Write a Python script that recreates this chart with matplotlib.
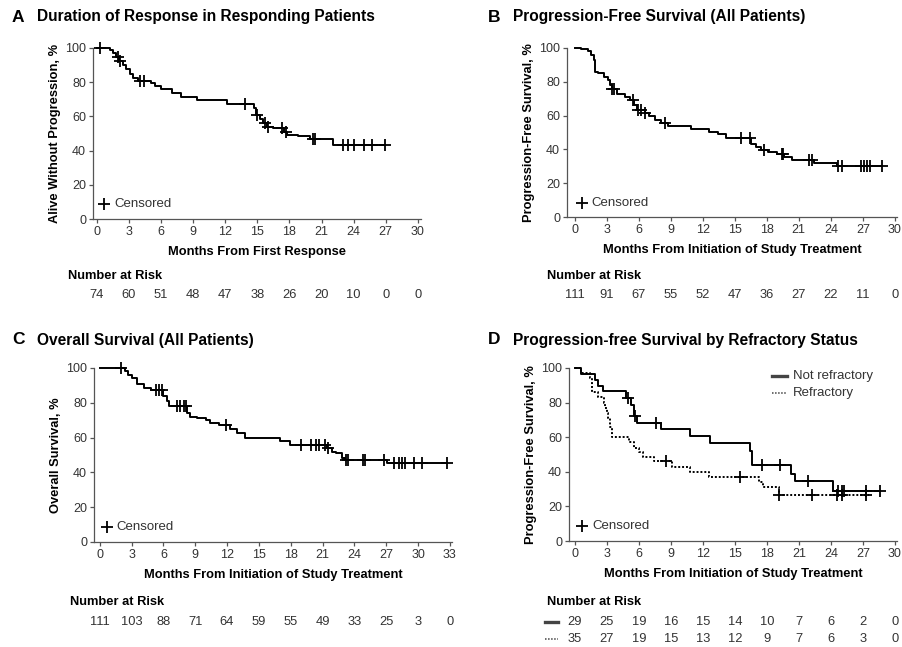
import numpy as np
import matplotlib
matplotlib.use("Agg")
import matplotlib.pyplot as plt
from matplotlib.transforms import blended_transform_factory

plt.rcParams['font.family'] = ['Liberation Sans', 'DejaVu Sans']

W, H = 903, 647

# --- data (months, survival %) ---
# A: duration of response
a_t = [0, 1.2, 1.5, 1.8, 2.1, 2.4, 2.7, 3.1, 3.4, 3.8, 5.1, 5.4, 6.0, 7.0, 7.9, 9.4,
       12.2, 14.7, 14.9, 15.2, 15.5, 15.9, 16.5, 17.5, 17.8, 18.8, 19.9, 22.1]
a_s = [100, 98.8, 97, 95, 92.5, 90, 88, 85, 82.5, 80.5, 79.5, 78, 76, 73.5, 71.5, 69.5,
       67.5, 65, 61, 58.5, 56, 54, 53, 51, 49, 48.5, 46.5, 43.5]
a_cens = [0.3, 2.0, 2.2, 4.0, 4.4, 13.8, 15.0, 15.7, 16.0, 17.3, 17.7, 20.2, 20.4,
          23.0, 23.5, 24.0, 25.0, 25.7, 26.9]
a_risk = [74, 60, 51, 48, 47, 38, 26, 20, 10, 0, 0]

# B: PFS all patients
b_t = [0, 0.6, 1.25, 1.55, 1.8, 1.95, 2.2, 2.7, 3.1, 3.3, 3.5, 4.0, 4.7, 5.2, 5.6, 5.8,
       6.6, 7.0, 7.5, 8.1, 8.7, 10.9, 12.6, 13.4, 14.2, 16.5, 17.0, 17.5, 18.1, 19.0,
       19.6, 20.4, 22.4, 24.6]
b_s = [100, 99.5, 98, 96, 93, 86, 85, 83, 81, 78, 75.5, 73, 71, 69, 66, 63.5,
       61.5, 59.5, 57.5, 55.5, 54, 52, 50.5, 49, 47, 43, 41.5, 39.5, 38.5, 37.5,
       35.5, 33.5, 31.8, 30]
b_cens = [3.5, 3.7, 5.5, 5.9, 6.2, 6.6, 8.5, 15.6, 16.4, 17.7, 19.4, 19.5, 22.0, 22.2,
          24.7, 25.0, 26.8, 27.1, 27.4, 27.7, 28.8]
b_risk = [111, 91, 67, 55, 52, 47, 36, 27, 22, 11, 0]

# C: overall survival
c_t = [0, 2.4, 2.7, 3.0, 3.5, 4.2, 4.8, 6.0, 6.3, 6.5, 8.2, 8.5, 9.2, 10.0, 10.4, 11.2,
       12.3, 12.9, 13.7, 15.7, 17.0, 17.9, 21.4, 21.9, 22.3, 22.8, 23.1, 27.1]
c_s = [100, 98, 96, 94, 91, 88.5, 87.5, 84, 81, 78, 74, 72, 71, 70, 68.5, 67,
       65, 62.5, 60, 59.5, 58, 56, 54, 52, 51, 48.5, 47, 45.5]
c_cens = [2.05, 5.3, 5.6, 5.9, 7.3, 7.6, 7.9, 8.1, 11.9, 19.0, 19.9, 20.4, 20.7, 21.2,
          21.5, 23.2, 23.4, 24.8, 25.0, 26.8, 27.7, 28.2, 28.5, 28.8, 29.6, 30.4, 32.7]
c_risk = [111, 103, 88, 71, 64, 59, 55, 49, 33, 25, 3, 0]

# D: PFS by refractory status
d_nr_t = [0, 0.6, 1.9, 2.2, 2.6, 4.8, 5.3, 5.5, 5.8, 8.1, 10.8, 12.7, 16.4, 16.6,
          20.3, 20.6, 24.2]
d_nr_s = [100, 96.5, 93, 89.5, 86.5, 82.5, 78.5, 72, 68, 64.5, 60.5, 56.5, 52, 44,
          39, 34.5, 29]
d_nr_cens = [5.0, 5.6, 7.6, 17.5, 19.2, 21.9, 24.7, 25.0, 25.2, 27.3, 28.6]
d_r_t = [0, 0.6, 1.4, 1.6, 2.2, 2.7, 2.85, 3.0, 3.1, 3.3, 3.5, 5.1, 5.5, 6.0, 6.4,
         7.4, 9.1, 10.8, 12.6, 17.3, 17.6, 19.1]
d_r_s = [100, 97, 94, 86, 83, 80, 77, 74, 71, 66, 60, 57, 54, 51.5, 48.5,
         46, 43, 40, 37, 34, 31, 26.5]
d_r_cens = [8.5, 15.5, 19.1, 22.2, 24.6, 25.0, 27.3]
d_r_end = 27.6
d_nr_risk = [29, 25, 19, 16, 15, 14, 10, 7, 6, 2, 0]
d_r_risk = [35, 27, 19, 15, 13, 12, 9, 7, 6, 3, 0]

ticks30 = list(range(0, 31, 3))
ticks33 = list(range(0, 34, 3))
yticks = [0, 20, 40, 60, 80, 100]

DOTTED = (0, (1, 1))


def fx(px):
    return px / W


def fy(py):
    return 1 - py / H


def km(ax, t, s, cens, end=None, ls='-'):
    t = np.array(t, float)
    s = np.array(s, float)
    if end is None:
        end = max(cens)
    ax.step(np.append(t, end), np.append(s, s[-1]), where='post', color='k',
            lw=1.4, ls=ls, clip_on=False, zorder=3)
    idx = np.searchsorted(t, cens, side='right') - 1
    ax.plot(cens, s[idx], '+', ms=9, mew=1.3, color='k', clip_on=False, zorder=4)


def style(ax, xt, xlim, ylabel, xlabel):
    ax.set_xlim(*xlim)
    ax.set_ylim(0, 100)
    ax.set_xticks(xt)
    ax.set_yticks(yticks)
    for side in ['top', 'right']:
        ax.spines[side].set_visible(False)
    for side in ['left', 'bottom']:
        ax.spines[side].set_color('#555555')
        ax.spines[side].set_linewidth(0.9)
    ax.tick_params(direction='out', length=3, width=0.9, color='#555555',
                   labelsize=9, labelcolor='#333333', pad=2)
    ax.set_ylabel(ylabel, fontsize=9.3, fontweight='bold', labelpad=3)
    ax.set_xlabel(xlabel, fontsize=9.3, fontweight='bold', labelpad=6)
    # censored key
    ax.plot([0.7], [8.5], '+', ms=8, mew=1.3, color='k', clip_on=False)
    ax.text(1.6, 8.5, 'Censored', fontsize=9.5, color='#333333', va='center')


def risk(fig, ax, xt, vals, py):
    tr = blended_transform_factory(ax.transData, fig.transFigure)
    for x, v in zip(xt, vals):
        ax.text(x, fy(py), str(v), transform=tr, ha='center', va='center',
                fontsize=9.3, color='#333333', clip_on=False)


fig = plt.figure(figsize=(W / 100, H / 100), dpi=100)

axA = fig.add_axes([fx(93), fy(219), fx(421 - 93), fy(48) - fy(219)])
axB = fig.add_axes([fx(567), fy(217), fx(897 - 567), fy(48) - fy(217)])
axC = fig.add_axes([fx(94), fy(542), fx(452 - 94), fy(368) - fy(542)])
axD = fig.add_axes([fx(569), fy(541), fx(897 - 569), fy(368) - fy(541)])

km(axA, a_t, a_s, a_cens)
style(axA, ticks30, (-0.37, 30.3), 'Alive Without Progression, %', 'Months From First Response')
km(axB, b_t, b_s, b_cens)
style(axB, ticks30, (-0.72, 30.2), 'Progression-Free Survival, %',
      'Months From Initiation of Study Treatment')
km(axC, c_t, c_s, c_cens)
style(axC, ticks33, (-0.54, 33.2), 'Overall Survival, %',
      'Months From Initiation of Study Treatment')
km(axD, d_nr_t, d_nr_s, d_nr_cens)
km(axD, d_r_t, d_r_s, d_r_cens, end=d_r_end, ls=DOTTED)
style(axD, ticks30, (-0.56, 30.2), 'Progression-Free Survival, %',
      'Months From Initiation of Study Treatment')

# legend in D
axD.plot([18.5, 19.9], [95.5, 95.5], color='#444444', lw=2.4, clip_on=False)
axD.plot([18.5, 19.9], [85.5, 85.5], color='#444444', lw=1.1, ls=DOTTED, clip_on=False)
axD.text(20.4, 95.5, 'Not refractory', fontsize=9.5, color='#333333', va='center')
axD.text(20.4, 85.5, 'Refractory', fontsize=9.5, color='#333333', va='center')

# panel titles
for px, py, letter, title in [(12, 17, 'A', 'Duration of Response in Responding Patients'),
                              (488, 17, 'B', 'Progression-Free Survival (All Patients)'),
                              (12, 340, 'C', 'Overall Survival (All Patients)'),
                              (488, 340, 'D', 'Progression-free Survival by Refractory Status')]:
    fig.text(fx(px), fy(py), letter, fontsize=12.5, fontweight='bold', va='center')
    fig.text(fx(px + 25), fy(py), title, fontsize=11.2, fontweight='bold', va='center')

# number at risk tables
for px, py in [(68, 276), (547, 276), (70, 602), (547, 602)]:
    fig.text(fx(px), fy(py), 'Number at Risk', fontsize=9.3, fontweight='bold', va='center')

risk(fig, axA, ticks30, a_risk, 295)
risk(fig, axB, ticks30, b_risk, 295)
risk(fig, axC, ticks33, c_risk, 622)
risk(fig, axD, ticks30, d_nr_risk, 622)
risk(fig, axD, ticks30, d_r_risk, 639)
fig.add_artist(plt.Line2D([fx(545), fx(558)], [fy(622), fy(622)], color='#444444', lw=2.4))
fig.add_artist(plt.Line2D([fx(545), fx(558)], [fy(639), fy(639)], color='#444444', lw=1.1,
                          ls=DOTTED))

fig.savefig('out.png', dpi=100)
